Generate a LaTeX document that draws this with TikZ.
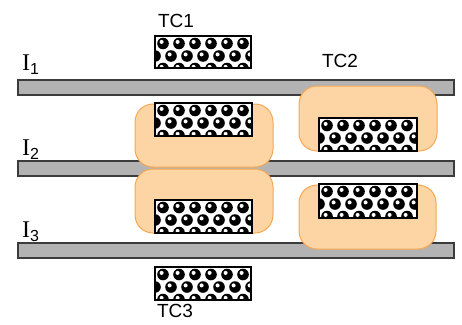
\documentclass[tikz,border=0pt]{standalone}
\usepackage{fontspec}
\setmainfont{Liberation Sans}
\newfontfamily\labelserif{Liberation Serif}
\definecolor{barfill}{RGB}{179,179,179}
\definecolor{barline}{RGB}{60,60,60}
\definecolor{padfill}{RGB}{253,212,164}
\definecolor{padline}{RGB}{246,168,84}
\tikzset{
  rail/.style={fill=barfill,draw=barline,line width=1.3pt},
  pad/.style={fill=padfill,draw=padline,line width=1pt,rounded corners=18pt},
  tclabel/.style={inner sep=0pt,font=\fontsize{19}{19}\selectfont},
  ilabel/.style={inner sep=0pt,anchor=base west,font=\labelserif\fontsize{24}{24}\selectfont}
}
% box filled with black beads, corners (#1,#2) and (#3,#4)
\newcommand\beadbox[4]{%
  \begin{scope}
    \clip (#1,#2) rectangle (#3,#4);
    \fill[white] (#1,#2) rectangle (#3,#4);
    \foreach \r in {0,1,2}{
      \foreach \c in {0,...,7}{
        \pgfmathsetmacro\cx{#1+8+\c*16-mod(\r,2)*8}
        \pgfmathsetmacro\cy{#2+7.5+\r*12.5}
        \fill[black] (\cx,\cy) circle[radius=5.8pt];
        \fill[white] (\cx-1.4,\cy-1.6) circle[radius=2pt];
      }
    }
  \end{scope}
  \draw[line width=2.2pt] (#1,#2) rectangle (#3,#4);
}
\newcommand\isub[1]{\raisebox{-4pt}{\fontspec{Liberation Sans}\fontsize{16}{16}\selectfont #1}}
\begin{document}
\begin{tikzpicture}[x=1pt,y=-1pt]
  \useasboundingbox (0,0) rectangle (462,324);
  % rails
  \draw[rail] (18,80) rectangle (454,95);
  \draw[rail] (18,161) rectangle (454,176);
  \draw[rail] (18,243) rectangle (454,258);
  % pads
  \draw[pad] (135,104) rectangle (273,167);
  \draw[pad] (135,169) rectangle (273,233);
  \draw[pad] (299,86) rectangle (437,151);
  \draw[pad] (299,185) rectangle (436,249);
  % bead boxes
  \beadbox{155}{36}{251}{68}
  \beadbox{155}{103}{252}{136}
  \beadbox{155}{200}{252}{233}
  \beadbox{319}{118}{417}{151}
  \beadbox{319}{184}{417}{218}
  \beadbox{155}{267}{251}{300}
  % labels
  \node[tclabel] (tc1) at (176,21) {TC1};
  \node[tclabel] (tc2) at (340,61) {TC2};
  \node[tclabel] (tc3) at (175,311) {TC3};
  \node[ilabel] (i1) at (22,70) {I\isub{1}};
  \node[ilabel] (i2) at (22,155) {I\isub{2}};
  \node[ilabel] (i3) at (22,237) {I\isub{3}};
\end{tikzpicture}
\end{document}
